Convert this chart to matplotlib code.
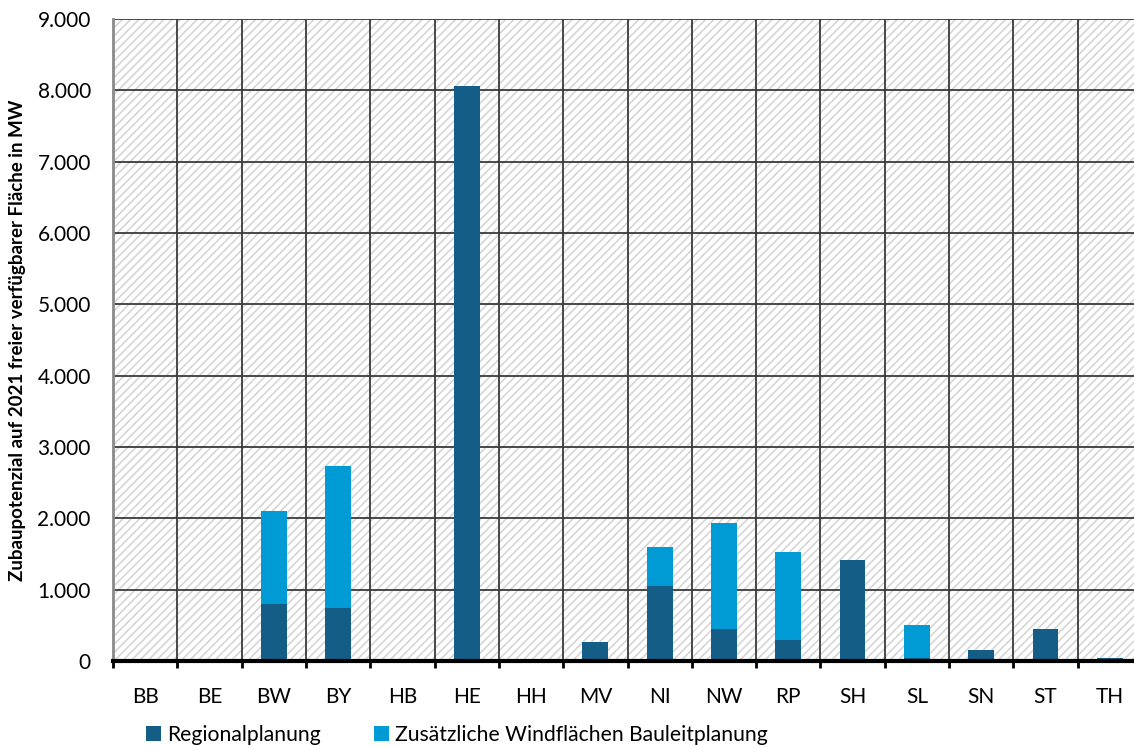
import numpy as np
import matplotlib.pyplot as plt
from matplotlib.patches import Rectangle
from matplotlib.ticker import FuncFormatter

# Zubaupotenzial je Bundesland (MW)
laender = ['BB', 'BE', 'BW', 'BY', 'HB', 'HE', 'HH', 'MV',
           'NI', 'NW', 'RP', 'SH', 'SL', 'SN', 'ST', 'TH']
regionalplanung = [0, 0, 795, 745, 0, 8060, 0, 265,
                   1045, 455, 300, 1420, 45, 160, 450, 40]
bauleitplanung = [0, 0, 1310, 1985, 0, 0, 0, 0,
                  555, 1475, 1235, 0, 455, 0, 0, 0]

col_dark = '#135d86'
col_light = '#009bd4'

plt.rcParams['font.family'] = ['Lato', 'DejaVu Sans']
plt.rcParams['hatch.linewidth'] = 1.2
plt.rcParams['hatch.color'] = '#d6d6d6'

fig = plt.figure(figsize=(11.34, 7.47), dpi=100)
ax = fig.add_axes([113/1134, 1 - 661/747, 1029/1134, 642/747])

x = np.arange(len(laender))
ax.set_xlim(-0.5, len(laender) - 0.5)
ax.set_ylim(0, 9000)

# schraffierter Hintergrund
ax.add_patch(Rectangle((0, 0), 1, 1, transform=ax.transAxes, facecolor='white',
                       edgecolor='#d6d6d6', hatch='////', linewidth=0, zorder=0))

b1 = ax.bar(x, regionalplanung, width=0.4, color=col_dark, zorder=3,
            label='Regionalplanung')
b2 = ax.bar(x, bauleitplanung, width=0.4, bottom=regionalplanung, color=col_light,
            zorder=3, label='Zusätzliche Windflächen Bauleitplanung')

# Gitter
ax.set_yticks(np.arange(0, 9001, 1000))
ax.yaxis.set_major_formatter(FuncFormatter(lambda v, p: f'{int(v):,}'.replace(',', '.')))
ax.set_xticks(x)
ax.set_xticklabels(laender)
ax.set_xticks(np.arange(-0.5, len(laender), 1), minor=True)
ax.grid(axis='y', which='major', color='#3a3a3a', linewidth=1.3, zorder=1)
ax.grid(axis='x', which='minor', color='#3a3a3a', linewidth=1.3, zorder=1)
ax.set_axisbelow(True)

ax.tick_params(axis='y', length=0, pad=16, labelsize=15)
ax.tick_params(axis='x', which='major', length=0, pad=19, labelsize=15)
ax.tick_params(axis='x', which='minor', length=5, width=2, color='black', direction='out')

for s in ['top', 'right']:
    ax.spines[s].set_visible(False)
ax.spines['left'].set_color('#8a8a8a')
ax.spines['left'].set_linewidth(2)
ax.spines['bottom'].set_color('black')
ax.spines['bottom'].set_linewidth(3)
ax.spines['bottom'].set_zorder(4)

ax.set_ylabel('Zubaupotenzial auf 2021 freier verfügbarer Fläche in MW',
              fontsize=13.5, fontweight='bold', labelpad=8)

fig.legend(handles=[b1, b2], loc='center left', bbox_to_anchor=(138/1134, 1 - 735/747),
           ncol=2, frameon=False, fontsize=15.2, handlelength=0.7, handleheight=0.7,
           handletextpad=0.3, columnspacing=2.5, borderaxespad=0)

fig.savefig('out.png', dpi=100)
